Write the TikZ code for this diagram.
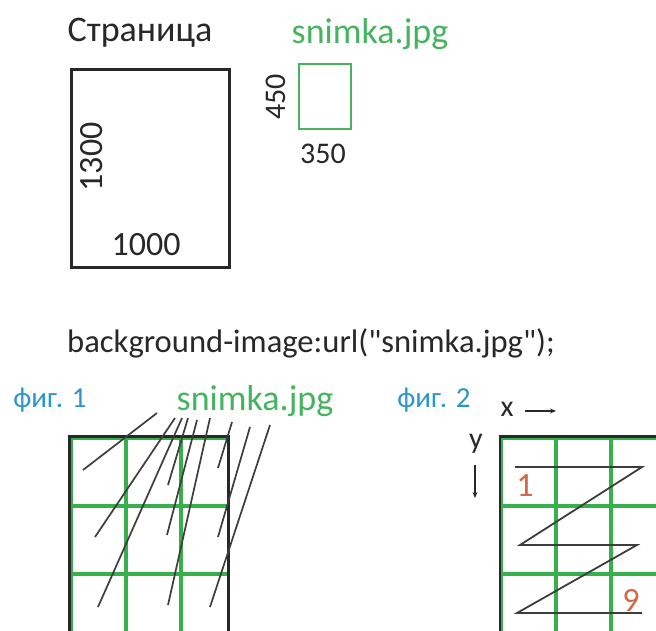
\documentclass[tikz,border=0pt]{standalone}
\usepackage{fontspec}
\setmainfont{Carlito}
\usetikzlibrary{arrows.meta}
\definecolor{txtgray}{RGB}{40,40,40}
\definecolor{imggreen}{RGB}{70,180,95}
\definecolor{gridgreen}{RGB}{55,175,75}
\definecolor{figblue}{RGB}{45,150,200}
\definecolor{numorange}{RGB}{210,105,70}
\tikzset{
  lbl/.style={inner sep=0pt, text=txtgray, font=\fontsize{#1}{#1}\selectfont},
  glbl/.style={inner sep=0pt, text=imggreen, font=\fontsize{#1}{#1}\selectfont},
  blbl/.style={inner sep=0pt, text=figblue, font=\fontsize{#1}{#1}\selectfont},
  olbl/.style={inner sep=0pt, text=numorange, font=\fontsize{#1}{#1}\selectfont},
  pagebox/.style={draw=txtgray, line width=2.6pt},
  imgbox/.style={draw=imggreen, line width=2pt},
  tile/.style={draw=gridgreen, line width=3.6pt},
  frame/.style={draw=txtgray, line width=2.2pt},
  leader/.style={draw=txtgray!90, line width=1.7pt},
  zig/.style={draw=txtgray!90, line width=1.8pt},
  axarrow/.style={draw=txtgray, line width=1.2pt, -{Stealth[length=6pt,width=5pt]}}
}
\begin{document}
\begin{tikzpicture}[x=1pt,y=-1pt]
\clip (0,0) rectangle (656,630);
\fill[white] (0,0) rectangle (656,630);

% --- top part
\node[lbl=36] (strtitle) at (140,33) {Страница};
\node[pagebox, draw, minimum width=158pt, minimum height=198pt, inner sep=0pt, anchor=north west] (page) at (70,68) {};
\node[lbl=34, rotate=90] (h1300) at (92,157) {1300};
\node[lbl=34] (w1000) at (146,245) {1000};

\node[glbl=36] (imgtitle) at (370,34) {snimka.jpg};
\node[imgbox, draw, minimum width=52pt, minimum height=65pt, inner sep=0pt, anchor=north west] (img) at (298,63) {};
\node[lbl=30, rotate=90] (h450) at (276,97) {450};
\node[lbl=30] (w350) at (323,154) {350};

\node[lbl=32.6] (css) at (311,343) {background-image:url(\textquotedbl snimka.jpg\textquotedbl);};

% --- fig. 1
\node[blbl=29] (fig1) at (50,400) {фиг. 1};
\node[glbl=36] (imgname1) at (255,401) {snimka.jpg};
\begin{scope}
  \clip (71,438) rectangle (228,640);
  \foreach \i in {0,1,2} \foreach \j in {0,1,2} {
    \draw[tile] (71+55*\i,438+68*\j) rectangle ++(55,68);
  }
\end{scope}
\draw[frame] (69.5,650) -- (69.5,436.5) -- (228.5,436.5) -- (228.5,650);

% leader lines
\coordinate (s1) at (157,413); \coordinate (e1) at (83,470);
\coordinate (s2) at (175,418); \coordinate (e2) at (95,537);
\coordinate (s3) at (182,418); \coordinate (e3) at (98,607);
\coordinate (s4) at (188,418); \coordinate (e4) at (168,485);
\coordinate (s5) at (197,420); \coordinate (e5) at (167,535);
\coordinate (s6) at (210,418); \coordinate (e6) at (168,605);
\coordinate (s7) at (232,422); \coordinate (e7) at (218,468);
\coordinate (s8) at (250,427); \coordinate (e8) at (218,537);
\coordinate (s9) at (270,425); \coordinate (e9) at (210,607);
\foreach \k in {1,...,9} { \draw[leader] (s\k) -- (e\k); }

% --- fig. 2
\node[blbl=29] (fig2) at (434,400) {фиг. 2};
\node[lbl=30] (xlab) at (507,409) {x};
\coordinate (xa) at (525,411); \coordinate (xb) at (556,411);
\draw[axarrow] (xa) -- (xb);
\node[lbl=30] (ylab) at (476,444) {y};
\coordinate (ya) at (475,465); \coordinate (yb) at (475,498);
\draw[axarrow] (ya) -- (yb);
\begin{scope}
  \clip (501,438) rectangle (700,700);
  \foreach \i in {0,1,2,3} \foreach \j in {0,1,2} {
    \draw[tile] (501+55*\i,438+68*\j) rectangle ++(55,68);
  }
\end{scope}
\draw[frame] (500,660) -- (500,436.5) -- (700,436.5);
\coordinate (z1) at (515,467); \coordinate (z2) at (642,467);
\coordinate (z3) at (520,545); \coordinate (z4) at (637,545);
\coordinate (z5) at (517,613); \coordinate (z6) at (642,613);
\draw[zig] (z1) -- (z2) -- (z3) -- (z4) -- (z5) -- (z6);
\node[olbl=34] (n1) at (525,486) {1};
\node[olbl=34] (n9) at (631,600) {9};
\end{tikzpicture}
\end{document}
